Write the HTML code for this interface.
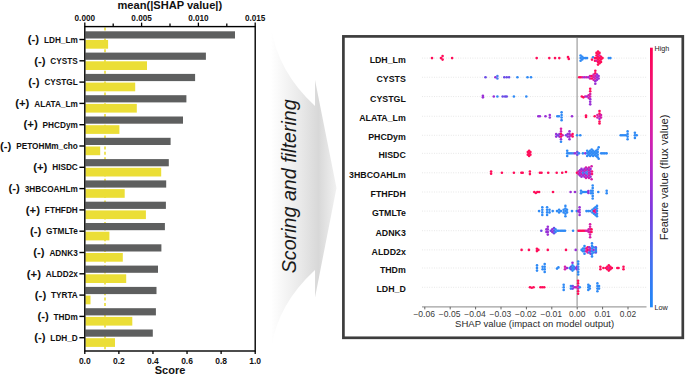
<!DOCTYPE html>
<html><head><meta charset="utf-8"><style>
html,body{margin:0;padding:0;background:#fff;overflow:hidden}
svg{display:block}
text{font-family:"Liberation Sans", sans-serif}
</style></head><body>
<svg width="685" height="374" viewBox="0 0 685 374" font-family='"Liberation Sans", sans-serif'>
<rect width="685" height="374" fill="#fff"/>
<line x1="105" y1="27.6" x2="105" y2="350.0" stroke="#ebde36" stroke-width="1.6" stroke-dasharray="3 2.4"/>
<rect x="85.4" y="31.30" width="149.60" height="7.2" fill="#5e5f5f"/>
<rect x="85.4" y="40.00" width="22.70" height="8.7" fill="#ebde36"/>
<line x1="79.4" y1="39.50" x2="84.8" y2="39.50" stroke="#000" stroke-width="1.4"/>
<text transform="translate(77.8,42.60) scale(0.96,1)" text-anchor="end" font-weight="bold" font-size="8.6" fill="#111">LDH_Lm</text>
<text x="39.16" y="43.20" text-anchor="end" font-weight="bold" font-size="11.4" fill="#111">(-)</text>
<rect x="85.4" y="52.60" width="120.50" height="7.2" fill="#5e5f5f"/>
<rect x="85.4" y="61.30" width="61.60" height="8.7" fill="#ebde36"/>
<line x1="79.4" y1="60.80" x2="84.8" y2="60.80" stroke="#000" stroke-width="1.4"/>
<text transform="translate(77.8,63.90) scale(0.96,1)" text-anchor="end" font-weight="bold" font-size="8.6" fill="#111">CYSTS</text>
<text x="45.57" y="64.50" text-anchor="end" font-weight="bold" font-size="11.4" fill="#111">(-)</text>
<rect x="85.4" y="73.90" width="109.70" height="7.2" fill="#5e5f5f"/>
<rect x="85.4" y="82.60" width="49.80" height="8.7" fill="#ebde36"/>
<line x1="79.4" y1="82.10" x2="84.8" y2="82.10" stroke="#000" stroke-width="1.4"/>
<text transform="translate(77.8,85.20) scale(0.96,1)" text-anchor="end" font-weight="bold" font-size="8.6" fill="#111">CYSTGL</text>
<text x="39.62" y="85.80" text-anchor="end" font-weight="bold" font-size="11.4" fill="#111">(-)</text>
<rect x="85.4" y="95.20" width="101.00" height="7.2" fill="#5e5f5f"/>
<rect x="85.4" y="103.90" width="51.40" height="8.7" fill="#ebde36"/>
<line x1="79.4" y1="103.40" x2="84.8" y2="103.40" stroke="#000" stroke-width="1.4"/>
<text transform="translate(77.8,106.50) scale(0.96,1)" text-anchor="end" font-weight="bold" font-size="8.6" fill="#111">ALATA_Lm</text>
<text x="29.38" y="107.10" text-anchor="end" font-weight="bold" font-size="11.4" fill="#111">(+)</text>
<rect x="85.4" y="116.50" width="97.60" height="7.2" fill="#5e5f5f"/>
<rect x="85.4" y="125.20" width="34.00" height="8.7" fill="#ebde36"/>
<line x1="79.4" y1="124.70" x2="84.8" y2="124.70" stroke="#000" stroke-width="1.4"/>
<text transform="translate(77.8,127.80) scale(0.96,1)" text-anchor="end" font-weight="bold" font-size="8.6" fill="#111">PHCDym</text>
<text x="37.77" y="128.40" text-anchor="end" font-weight="bold" font-size="11.4" fill="#111">(+)</text>
<rect x="85.4" y="137.80" width="85.20" height="7.2" fill="#5e5f5f"/>
<rect x="85.4" y="146.50" width="14.80" height="8.7" fill="#ebde36"/>
<line x1="79.4" y1="146.00" x2="84.8" y2="146.00" stroke="#000" stroke-width="1.4"/>
<text transform="translate(77.8,149.10) scale(0.96,1)" text-anchor="end" font-weight="bold" font-size="8.6" fill="#111">PETOHMm_cho</text>
<text x="11.32" y="149.70" text-anchor="end" font-weight="bold" font-size="11.4" fill="#111">(-)</text>
<rect x="85.4" y="159.10" width="83.40" height="7.2" fill="#5e5f5f"/>
<rect x="85.4" y="167.80" width="75.80" height="8.7" fill="#ebde36"/>
<line x1="79.4" y1="167.30" x2="84.8" y2="167.30" stroke="#000" stroke-width="1.4"/>
<text transform="translate(77.8,170.40) scale(0.96,1)" text-anchor="end" font-weight="bold" font-size="8.6" fill="#111">HISDC</text>
<text x="47.41" y="171.00" text-anchor="end" font-weight="bold" font-size="11.4" fill="#111">(+)</text>
<rect x="85.4" y="180.40" width="80.80" height="7.2" fill="#5e5f5f"/>
<rect x="85.4" y="189.10" width="39.30" height="8.7" fill="#ebde36"/>
<line x1="79.4" y1="188.60" x2="84.8" y2="188.60" stroke="#000" stroke-width="1.4"/>
<text transform="translate(77.8,191.70) scale(0.96,1)" text-anchor="end" font-weight="bold" font-size="8.6" fill="#111">3HBCOAHLm</text>
<text x="19.89" y="192.30" text-anchor="end" font-weight="bold" font-size="11.4" fill="#111">(-)</text>
<rect x="85.4" y="201.70" width="80.50" height="7.2" fill="#5e5f5f"/>
<rect x="85.4" y="210.40" width="60.50" height="8.7" fill="#ebde36"/>
<line x1="79.4" y1="209.90" x2="84.8" y2="209.90" stroke="#000" stroke-width="1.4"/>
<text transform="translate(77.8,213.00) scale(0.96,1)" text-anchor="end" font-weight="bold" font-size="8.6" fill="#111">FTHFDH</text>
<text x="40.09" y="213.60" text-anchor="end" font-weight="bold" font-size="11.4" fill="#111">(+)</text>
<rect x="85.4" y="223.00" width="79.50" height="7.2" fill="#5e5f5f"/>
<rect x="85.4" y="231.70" width="24.00" height="8.7" fill="#ebde36"/>
<line x1="79.4" y1="231.20" x2="84.8" y2="231.20" stroke="#000" stroke-width="1.4"/>
<text transform="translate(77.8,234.30) scale(0.96,1)" text-anchor="end" font-weight="bold" font-size="8.6" fill="#111">GTMLTe</text>
<text x="41.31" y="234.90" text-anchor="end" font-weight="bold" font-size="11.4" fill="#111">(-)</text>
<rect x="85.4" y="244.30" width="76.00" height="7.2" fill="#5e5f5f"/>
<rect x="85.4" y="253.00" width="37.40" height="8.7" fill="#ebde36"/>
<line x1="79.4" y1="252.50" x2="84.8" y2="252.50" stroke="#000" stroke-width="1.4"/>
<text transform="translate(77.8,255.60) scale(0.96,1)" text-anchor="end" font-weight="bold" font-size="8.6" fill="#111">ADNK3</text>
<text x="44.66" y="256.20" text-anchor="end" font-weight="bold" font-size="11.4" fill="#111">(-)</text>
<rect x="85.4" y="265.60" width="72.60" height="7.2" fill="#5e5f5f"/>
<rect x="85.4" y="274.30" width="40.80" height="8.7" fill="#ebde36"/>
<line x1="79.4" y1="273.80" x2="84.8" y2="273.80" stroke="#000" stroke-width="1.4"/>
<text transform="translate(77.8,276.90) scale(0.96,1)" text-anchor="end" font-weight="bold" font-size="8.6" fill="#111">ALDD2x</text>
<text x="40.99" y="277.50" text-anchor="end" font-weight="bold" font-size="11.4" fill="#111">(+)</text>
<rect x="85.4" y="286.90" width="71.10" height="7.2" fill="#5e5f5f"/>
<rect x="85.4" y="295.60" width="5.10" height="8.7" fill="#ebde36"/>
<line x1="79.4" y1="295.10" x2="84.8" y2="295.10" stroke="#000" stroke-width="1.4"/>
<text transform="translate(77.8,298.20) scale(0.96,1)" text-anchor="end" font-weight="bold" font-size="8.6" fill="#111">TYRTA</text>
<text x="46.20" y="298.80" text-anchor="end" font-weight="bold" font-size="11.4" fill="#111">(-)</text>
<rect x="85.4" y="308.20" width="70.50" height="7.2" fill="#5e5f5f"/>
<rect x="85.4" y="316.90" width="46.90" height="8.7" fill="#ebde36"/>
<line x1="79.4" y1="316.40" x2="84.8" y2="316.40" stroke="#000" stroke-width="1.4"/>
<text transform="translate(77.8,319.50) scale(0.96,1)" text-anchor="end" font-weight="bold" font-size="8.6" fill="#111">THDm</text>
<text x="48.79" y="320.10" text-anchor="end" font-weight="bold" font-size="11.4" fill="#111">(-)</text>
<rect x="85.4" y="329.50" width="67.40" height="7.2" fill="#5e5f5f"/>
<rect x="85.4" y="338.20" width="29.60" height="8.7" fill="#ebde36"/>
<line x1="79.4" y1="337.70" x2="84.8" y2="337.70" stroke="#000" stroke-width="1.4"/>
<text transform="translate(77.8,340.80) scale(0.96,1)" text-anchor="end" font-weight="bold" font-size="8.6" fill="#111">LDH_D</text>
<text x="45.58" y="341.40" text-anchor="end" font-weight="bold" font-size="11.4" fill="#111">(-)</text>
<rect x="84.8" y="26.6" width="170.40" height="324.40" fill="none" stroke="#000" stroke-width="1.4"/>
<line x1="84.80" y1="26.6" x2="84.80" y2="22.6" stroke="#000" stroke-width="1.3"/>
<line x1="113.20" y1="26.6" x2="113.20" y2="23.6" stroke="#000" stroke-width="1.3"/>
<line x1="141.60" y1="26.6" x2="141.60" y2="22.6" stroke="#000" stroke-width="1.3"/>
<line x1="170.00" y1="26.6" x2="170.00" y2="23.6" stroke="#000" stroke-width="1.3"/>
<line x1="198.40" y1="26.6" x2="198.40" y2="22.6" stroke="#000" stroke-width="1.3"/>
<line x1="226.80" y1="26.6" x2="226.80" y2="23.6" stroke="#000" stroke-width="1.3"/>
<line x1="255.20" y1="26.6" x2="255.20" y2="22.6" stroke="#000" stroke-width="1.3"/>
<text x="84.80" y="20.7" text-anchor="middle" font-weight="bold" font-size="8.2" fill="#111">0.000</text>
<text x="141.60" y="20.7" text-anchor="middle" font-weight="bold" font-size="8.2" fill="#111">0.005</text>
<text x="198.40" y="20.7" text-anchor="middle" font-weight="bold" font-size="8.2" fill="#111">0.010</text>
<text x="255.20" y="20.7" text-anchor="middle" font-weight="bold" font-size="8.2" fill="#111">0.015</text>
<text x="169.8" y="9.4" text-anchor="middle" font-weight="bold" font-size="11.1" fill="#111">mean(|SHAP value|)</text>
<line x1="84.80" y1="351.0" x2="84.80" y2="354.0" stroke="#000" stroke-width="1.3"/>
<text x="84.80" y="364" text-anchor="middle" font-weight="bold" font-size="8.5" fill="#111">0.0</text>
<line x1="118.88" y1="351.0" x2="118.88" y2="354.0" stroke="#000" stroke-width="1.3"/>
<text x="118.88" y="364" text-anchor="middle" font-weight="bold" font-size="8.5" fill="#111">0.2</text>
<line x1="152.96" y1="351.0" x2="152.96" y2="354.0" stroke="#000" stroke-width="1.3"/>
<text x="152.96" y="364" text-anchor="middle" font-weight="bold" font-size="8.5" fill="#111">0.4</text>
<line x1="187.04" y1="351.0" x2="187.04" y2="354.0" stroke="#000" stroke-width="1.3"/>
<text x="187.04" y="364" text-anchor="middle" font-weight="bold" font-size="8.5" fill="#111">0.6</text>
<line x1="221.12" y1="351.0" x2="221.12" y2="354.0" stroke="#000" stroke-width="1.3"/>
<text x="221.12" y="364" text-anchor="middle" font-weight="bold" font-size="8.5" fill="#111">0.8</text>
<line x1="255.20" y1="351.0" x2="255.20" y2="354.0" stroke="#000" stroke-width="1.3"/>
<text x="255.20" y="364" text-anchor="middle" font-weight="bold" font-size="8.5" fill="#111">1.0</text>
<text x="170" y="373.6" text-anchor="middle" font-weight="bold" font-size="11" fill="#111">Score</text>
<defs><linearGradient id="ag" x1="271" y1="0" x2="337" y2="0" gradientUnits="userSpaceOnUse"><stop offset="0" stop-color="#ffffff"/><stop offset="0.45" stop-color="#e9e9e9"/><stop offset="0.72" stop-color="#d8d8d8"/><stop offset="1" stop-color="#f2f2f2"/></linearGradient><linearGradient id="cb" x1="0" y1="0" x2="0" y2="1"><stop offset="0" stop-color="#ff0052"/><stop offset="0.17" stop-color="#f0167a"/><stop offset="0.36" stop-color="#d020b0"/><stop offset="0.5" stop-color="#a82ad0"/><stop offset="0.63" stop-color="#7c3ae0"/><stop offset="0.82" stop-color="#4470f0"/><stop offset="1" stop-color="#1e88f8"/></linearGradient></defs>
<path d="M271,27 Q278,72 315,106 L315,80 L336.5,188 L315,297.5 L315,270 Q278,304 271.5,347 Z" fill="url(#ag)"/>
<text transform="translate(296.2,186.3) rotate(-90)" text-anchor="middle" font-style="italic" font-size="19.7" fill="#1a1a1a">Scoring and filtering</text>
<rect x="343.4" y="36.4" width="339.4" height="301.4" fill="#fff" stroke="#3d3d3d" stroke-width="2.7"/>
<text x="405.8" y="63.10" text-anchor="end" font-weight="bold" font-size="8.8" fill="#111">LDH_Lm</text>
<line x1="422" y1="58.10" x2="647" y2="58.10" stroke="#e2e2e2" stroke-width="0.9" stroke-dasharray="0.9 1.5"/>
<text x="405.8" y="82.25" text-anchor="end" font-weight="bold" font-size="8.8" fill="#111">CYSTS</text>
<line x1="422" y1="77.25" x2="647" y2="77.25" stroke="#e2e2e2" stroke-width="0.9" stroke-dasharray="0.9 1.5"/>
<text x="405.8" y="101.55" text-anchor="end" font-weight="bold" font-size="8.8" fill="#111">CYSTGL</text>
<line x1="422" y1="96.55" x2="647" y2="96.55" stroke="#e2e2e2" stroke-width="0.9" stroke-dasharray="0.9 1.5"/>
<text x="405.8" y="121.25" text-anchor="end" font-weight="bold" font-size="8.8" fill="#111">ALATA_Lm</text>
<line x1="422" y1="116.25" x2="647" y2="116.25" stroke="#e2e2e2" stroke-width="0.9" stroke-dasharray="0.9 1.5"/>
<text x="405.8" y="140.30" text-anchor="end" font-weight="bold" font-size="8.8" fill="#111">PHCDym</text>
<line x1="422" y1="135.30" x2="647" y2="135.30" stroke="#e2e2e2" stroke-width="0.9" stroke-dasharray="0.9 1.5"/>
<text x="405.8" y="158.35" text-anchor="end" font-weight="bold" font-size="8.8" fill="#111">HISDC</text>
<line x1="422" y1="153.35" x2="647" y2="153.35" stroke="#e2e2e2" stroke-width="0.9" stroke-dasharray="0.9 1.5"/>
<text x="405.8" y="177.80" text-anchor="end" font-weight="bold" font-size="8.8" fill="#111">3HBCOAHLm</text>
<line x1="422" y1="172.80" x2="647" y2="172.80" stroke="#e2e2e2" stroke-width="0.9" stroke-dasharray="0.9 1.5"/>
<text x="405.8" y="197.00" text-anchor="end" font-weight="bold" font-size="8.8" fill="#111">FTHFDH</text>
<line x1="422" y1="192.00" x2="647" y2="192.00" stroke="#e2e2e2" stroke-width="0.9" stroke-dasharray="0.9 1.5"/>
<text x="405.8" y="216.10" text-anchor="end" font-weight="bold" font-size="8.8" fill="#111">GTMLTe</text>
<line x1="422" y1="211.10" x2="647" y2="211.10" stroke="#e2e2e2" stroke-width="0.9" stroke-dasharray="0.9 1.5"/>
<text x="405.8" y="235.70" text-anchor="end" font-weight="bold" font-size="8.8" fill="#111">ADNK3</text>
<line x1="422" y1="230.70" x2="647" y2="230.70" stroke="#e2e2e2" stroke-width="0.9" stroke-dasharray="0.9 1.5"/>
<text x="405.8" y="254.90" text-anchor="end" font-weight="bold" font-size="8.8" fill="#111">ALDD2x</text>
<line x1="422" y1="249.90" x2="647" y2="249.90" stroke="#e2e2e2" stroke-width="0.9" stroke-dasharray="0.9 1.5"/>
<text x="405.8" y="273.00" text-anchor="end" font-weight="bold" font-size="8.8" fill="#111">THDm</text>
<line x1="422" y1="268.00" x2="647" y2="268.00" stroke="#e2e2e2" stroke-width="0.9" stroke-dasharray="0.9 1.5"/>
<text x="405.8" y="292.30" text-anchor="end" font-weight="bold" font-size="8.8" fill="#111">LDH_D</text>
<line x1="422" y1="287.30" x2="647" y2="287.30" stroke="#e2e2e2" stroke-width="0.9" stroke-dasharray="0.9 1.5"/>
<line x1="577.1" y1="38" x2="577.1" y2="306.5" stroke="#a4a4a4" stroke-width="1.3"/>
<line x1="422" y1="306.9" x2="646.5" y2="306.9" stroke="#a0a0a0" stroke-width="1.3"/>
<line x1="424.80" y1="306.9" x2="424.80" y2="309.4" stroke="#555" stroke-width="0.9"/>
<text x="424.20" y="316.7" text-anchor="middle" font-size="8.2" fill="#3a3a3a" textLength="21.6" lengthAdjust="spacingAndGlyphs">−0.06</text>
<line x1="450.20" y1="306.9" x2="450.20" y2="309.4" stroke="#555" stroke-width="0.9"/>
<text x="449.60" y="316.7" text-anchor="middle" font-size="8.2" fill="#3a3a3a" textLength="21.6" lengthAdjust="spacingAndGlyphs">−0.05</text>
<line x1="475.60" y1="306.9" x2="475.60" y2="309.4" stroke="#555" stroke-width="0.9"/>
<text x="475.00" y="316.7" text-anchor="middle" font-size="8.2" fill="#3a3a3a" textLength="21.6" lengthAdjust="spacingAndGlyphs">−0.04</text>
<line x1="501.00" y1="306.9" x2="501.00" y2="309.4" stroke="#555" stroke-width="0.9"/>
<text x="500.40" y="316.7" text-anchor="middle" font-size="8.2" fill="#3a3a3a" textLength="21.6" lengthAdjust="spacingAndGlyphs">−0.03</text>
<line x1="526.40" y1="306.9" x2="526.40" y2="309.4" stroke="#555" stroke-width="0.9"/>
<text x="525.80" y="316.7" text-anchor="middle" font-size="8.2" fill="#3a3a3a" textLength="21.6" lengthAdjust="spacingAndGlyphs">−0.02</text>
<line x1="551.80" y1="306.9" x2="551.80" y2="309.4" stroke="#555" stroke-width="0.9"/>
<text x="551.20" y="316.7" text-anchor="middle" font-size="8.2" fill="#3a3a3a" textLength="21.6" lengthAdjust="spacingAndGlyphs">−0.01</text>
<line x1="577.20" y1="306.9" x2="577.20" y2="309.4" stroke="#555" stroke-width="0.9"/>
<text x="577.20" y="316.7" text-anchor="middle" font-size="8.2" fill="#3a3a3a" textLength="16.3" lengthAdjust="spacingAndGlyphs">0.00</text>
<line x1="602.60" y1="306.9" x2="602.60" y2="309.4" stroke="#555" stroke-width="0.9"/>
<text x="602.60" y="316.7" text-anchor="middle" font-size="8.2" fill="#3a3a3a" textLength="16.3" lengthAdjust="spacingAndGlyphs">0.01</text>
<line x1="628.00" y1="306.9" x2="628.00" y2="309.4" stroke="#555" stroke-width="0.9"/>
<text x="628.00" y="316.7" text-anchor="middle" font-size="8.2" fill="#3a3a3a" textLength="16.3" lengthAdjust="spacingAndGlyphs">0.02</text>
<text x="534.6" y="327.2" text-anchor="middle" font-size="8.5" fill="#2a2a2a" textLength="159" lengthAdjust="spacingAndGlyphs">SHAP value (impact on model output)</text>
<rect x="650" y="47.7" width="2.8" height="259.6" fill="url(#cb)"/>
<text x="654.5" y="50.8" font-size="7.2" fill="#222">High</text>
<text x="654.5" y="309.6" font-size="7.3" fill="#222">Low</text>
<text transform="translate(668.3,177.5) rotate(-90)" text-anchor="middle" font-size="11.15" fill="#222">Feature value (flux value)</text>
<g><circle cx="432.0" cy="58.10" r="1.3" fill="#ff0d5a"/><circle cx="441.0" cy="58.10" r="1.3" fill="#ff0d5a"/><circle cx="442.6" cy="56.10" r="1.3" fill="#ff0d5a"/><circle cx="442.6" cy="59.60" r="1.3" fill="#ff0d5a"/><circle cx="452.1" cy="58.10" r="1.3" fill="#ff0d5a"/><circle cx="536.7" cy="58.10" r="1.3" fill="#ff0d5a"/><circle cx="549.3" cy="58.10" r="1.3" fill="#ff0d5a"/><circle cx="555.0" cy="58.10" r="1.3" fill="#ff0d5a"/><circle cx="559.3" cy="58.10" r="1.3" fill="#ff0d5a"/><circle cx="568.0" cy="57.10" r="1.3" fill="#ff0d5a"/><circle cx="568.8" cy="58.90" r="1.3" fill="#ff0d5a"/><circle cx="580.6" cy="55.50" r="1.3" fill="#2f8af5"/><circle cx="580.6" cy="58.10" r="1.3" fill="#2f8af5"/><circle cx="580.6" cy="60.70" r="1.3" fill="#2f8af5"/><circle cx="582.2" cy="56.80" r="1.3" fill="#2f8af5"/><circle cx="582.2" cy="59.40" r="1.3" fill="#2f8af5"/><circle cx="583.9" cy="58.10" r="1.3" fill="#2f8af5"/><circle cx="585.6" cy="58.10" r="1.3" fill="#2f8af5"/><circle cx="587.0" cy="58.10" r="1.3" fill="#2f8af5"/><circle cx="592.0" cy="59.60" r="1.3" fill="#ff0d5a"/><circle cx="593.0" cy="57.30" r="1.3" fill="#2f8af5"/><circle cx="595.0" cy="58.10" r="1.3" fill="#ff0d5a"/><circle cx="595.0" cy="60.70" r="1.3" fill="#ff0d5a"/><circle cx="596.5" cy="52.90" r="1.3" fill="#ff0d5a"/><circle cx="596.5" cy="55.50" r="1.3" fill="#ff0d5a"/><circle cx="596.5" cy="58.10" r="1.3" fill="#ff0d5a"/><circle cx="596.5" cy="60.70" r="1.3" fill="#d61ea8"/><circle cx="598.0" cy="51.60" r="1.3" fill="#ff0d5a"/><circle cx="598.0" cy="54.20" r="1.3" fill="#ff0d5a"/><circle cx="598.0" cy="56.80" r="1.3" fill="#ff0d5a"/><circle cx="598.0" cy="59.40" r="1.3" fill="#ff0d5a"/><circle cx="598.0" cy="62.00" r="1.3" fill="#ff0d5a"/><circle cx="598.0" cy="64.60" r="1.3" fill="#ff0d5a"/><circle cx="599.5" cy="52.90" r="1.3" fill="#ff0d5a"/><circle cx="599.5" cy="58.10" r="1.3" fill="#ff0d5a"/><circle cx="599.5" cy="60.70" r="1.3" fill="#ff0d5a"/><circle cx="599.5" cy="63.30" r="1.3" fill="#ff0d5a"/><circle cx="599.5" cy="55.50" r="1.3" fill="#d61ea8"/><circle cx="601.0" cy="56.80" r="1.3" fill="#ff0d5a"/><circle cx="601.0" cy="59.40" r="1.3" fill="#ff0d5a"/><circle cx="601.0" cy="62.00" r="1.3" fill="#ff0d5a"/><circle cx="602.5" cy="58.10" r="1.3" fill="#ff0d5a"/><circle cx="608.8" cy="58.10" r="1.3" fill="#2f8af5"/><circle cx="610.4" cy="58.10" r="1.3" fill="#2f8af5"/><circle cx="485.5" cy="77.25" r="1.3" fill="#6a4ce6"/><circle cx="495.4" cy="77.25" r="1.3" fill="#9a2fd6"/><circle cx="497.4" cy="75.95" r="1.3" fill="#4a80f0"/><circle cx="497.4" cy="78.55" r="1.3" fill="#4a80f0"/><circle cx="504.3" cy="77.25" r="1.3" fill="#6a4ce6"/><circle cx="506.7" cy="77.25" r="1.3" fill="#6a4ce6"/><circle cx="509.1" cy="77.25" r="1.3" fill="#6a4ce6"/><circle cx="517.4" cy="77.25" r="1.3" fill="#2f8af5"/><circle cx="527.5" cy="77.25" r="1.3" fill="#2f8af5"/><circle cx="531.0" cy="77.25" r="1.3" fill="#2f8af5"/><circle cx="579.2" cy="77.25" r="1.3" fill="#ff0d5a"/><circle cx="580.9" cy="77.25" r="1.3" fill="#ff0d5a"/><circle cx="582.8" cy="77.25" r="1.3" fill="#d61ea8"/><circle cx="584.6" cy="77.25" r="1.3" fill="#9a2fd6"/><circle cx="586.4" cy="77.25" r="1.3" fill="#d61ea8"/><circle cx="588.2" cy="77.25" r="1.3" fill="#9a2fd6"/><circle cx="590.0" cy="75.95" r="1.3" fill="#d61ea8"/><circle cx="590.0" cy="78.55" r="1.3" fill="#d61ea8"/><circle cx="591.8" cy="75.95" r="1.3" fill="#ff0d5a"/><circle cx="591.8" cy="78.55" r="1.3" fill="#ff0d5a"/><circle cx="593.6" cy="74.65" r="1.3" fill="#d61ea8"/><circle cx="593.6" cy="77.25" r="1.3" fill="#d61ea8"/><circle cx="593.6" cy="79.85" r="1.3" fill="#d61ea8"/><circle cx="595.3" cy="70.75" r="1.3" fill="#ff0d5a"/><circle cx="595.3" cy="73.35" r="1.3" fill="#ff0d5a"/><circle cx="595.3" cy="75.95" r="1.3" fill="#d61ea8"/><circle cx="595.3" cy="78.55" r="1.3" fill="#d61ea8"/><circle cx="595.3" cy="81.15" r="1.3" fill="#9a2fd6"/><circle cx="595.3" cy="83.75" r="1.3" fill="#9a2fd6"/><circle cx="597.0" cy="74.65" r="1.3" fill="#9a2fd6"/><circle cx="597.0" cy="77.25" r="1.3" fill="#9a2fd6"/><circle cx="597.0" cy="79.85" r="1.3" fill="#9a2fd6"/><circle cx="598.6" cy="75.95" r="1.3" fill="#9a2fd6"/><circle cx="598.6" cy="78.55" r="1.3" fill="#9a2fd6"/><circle cx="482.9" cy="95.75" r="1.3" fill="#9a2fd6"/><circle cx="482.9" cy="97.35" r="1.3" fill="#9a2fd6"/><circle cx="493.8" cy="96.55" r="1.3" fill="#9a2fd6"/><circle cx="497.4" cy="96.55" r="1.3" fill="#2f8af5"/><circle cx="502.7" cy="96.55" r="1.3" fill="#6a4ce6"/><circle cx="505.1" cy="96.55" r="1.3" fill="#6a4ce6"/><circle cx="506.7" cy="96.55" r="1.3" fill="#6a4ce6"/><circle cx="513.9" cy="96.55" r="1.3" fill="#2f8af5"/><circle cx="526.3" cy="96.55" r="1.3" fill="#2f8af5"/><circle cx="581.8" cy="96.55" r="1.3" fill="#ff0d5a"/><circle cx="583.4" cy="97.35" r="1.3" fill="#ff0d5a"/><circle cx="585.2" cy="96.55" r="1.3" fill="#d61ea8"/><circle cx="586.8" cy="96.55" r="1.3" fill="#9a2fd6"/><circle cx="588.6" cy="95.25" r="1.3" fill="#d61ea8"/><circle cx="588.6" cy="97.85" r="1.3" fill="#d61ea8"/><circle cx="590.2" cy="88.75" r="1.3" fill="#ff0d5a"/><circle cx="590.2" cy="91.35" r="1.3" fill="#ff0d5a"/><circle cx="590.2" cy="93.95" r="1.3" fill="#d61ea8"/><circle cx="590.2" cy="96.55" r="1.3" fill="#d61ea8"/><circle cx="590.2" cy="99.15" r="1.3" fill="#9a2fd6"/><circle cx="590.2" cy="101.75" r="1.3" fill="#9a2fd6"/><circle cx="590.2" cy="104.35" r="1.3" fill="#9a2fd6"/><circle cx="538.3" cy="116.25" r="1.3" fill="#9a2fd6"/><circle cx="539.9" cy="116.25" r="1.3" fill="#9a2fd6"/><circle cx="545.5" cy="116.25" r="1.3" fill="#9a2fd6"/><circle cx="549.8" cy="115.05" r="1.3" fill="#9a2fd6"/><circle cx="549.8" cy="117.45" r="1.3" fill="#9a2fd6"/><circle cx="557.3" cy="116.25" r="1.3" fill="#2f8af5"/><circle cx="558.9" cy="116.25" r="1.3" fill="#2f8af5"/><circle cx="561.6" cy="112.35" r="1.3" fill="#2f8af5"/><circle cx="561.6" cy="114.95" r="1.3" fill="#2f8af5"/><circle cx="561.6" cy="117.55" r="1.3" fill="#2f8af5"/><circle cx="561.6" cy="120.15" r="1.3" fill="#2f8af5"/><circle cx="572.0" cy="116.25" r="1.3" fill="#9a2fd6"/><circle cx="586.0" cy="115.45" r="1.3" fill="#ff0d5a"/><circle cx="586.0" cy="117.05" r="1.3" fill="#ff0d5a"/><circle cx="594.7" cy="116.25" r="1.3" fill="#ff0d5a"/><circle cx="597.4" cy="114.95" r="1.3" fill="#d61ea8"/><circle cx="597.4" cy="117.55" r="1.3" fill="#d61ea8"/><circle cx="599.5" cy="111.05" r="1.3" fill="#ff0d5a"/><circle cx="599.5" cy="113.65" r="1.3" fill="#ff0d5a"/><circle cx="599.5" cy="116.25" r="1.3" fill="#d61ea8"/><circle cx="599.5" cy="118.85" r="1.3" fill="#9a2fd6"/><circle cx="599.5" cy="121.45" r="1.3" fill="#ff0d5a"/><circle cx="599.5" cy="123.53" r="1.3" fill="#ff0d5a"/><circle cx="601.0" cy="114.95" r="1.3" fill="#d61ea8"/><circle cx="601.0" cy="117.55" r="1.3" fill="#d61ea8"/><circle cx="556.2" cy="134.00" r="1.3" fill="#9a2fd6"/><circle cx="556.2" cy="136.60" r="1.3" fill="#9a2fd6"/><circle cx="557.8" cy="135.30" r="1.3" fill="#6a4ce6"/><circle cx="559.4" cy="134.00" r="1.3" fill="#9a2fd6"/><circle cx="559.4" cy="136.60" r="1.3" fill="#9a2fd6"/><circle cx="561.0" cy="128.80" r="1.3" fill="#d61ea8"/><circle cx="561.0" cy="131.40" r="1.3" fill="#d61ea8"/><circle cx="561.0" cy="134.00" r="1.3" fill="#ff0d5a"/><circle cx="561.0" cy="136.60" r="1.3" fill="#ff0d5a"/><circle cx="561.0" cy="139.20" r="1.3" fill="#9a2fd6"/><circle cx="561.0" cy="141.80" r="1.3" fill="#2f8af5"/><circle cx="562.6" cy="135.30" r="1.3" fill="#d61ea8"/><circle cx="566.0" cy="135.30" r="1.3" fill="#6a4ce6"/><circle cx="567.7" cy="134.00" r="1.3" fill="#9a2fd6"/><circle cx="567.7" cy="136.60" r="1.3" fill="#9a2fd6"/><circle cx="569.5" cy="131.40" r="1.3" fill="#9a2fd6"/><circle cx="569.5" cy="134.00" r="1.3" fill="#9a2fd6"/><circle cx="569.5" cy="136.60" r="1.3" fill="#9a2fd6"/><circle cx="569.5" cy="139.20" r="1.3" fill="#9a2fd6"/><circle cx="571.0" cy="135.30" r="1.3" fill="#d61ea8"/><circle cx="572.6" cy="134.10" r="1.3" fill="#ff0d5a"/><circle cx="572.6" cy="136.50" r="1.3" fill="#ff0d5a"/><circle cx="577.1" cy="135.30" r="1.3" fill="#2f8af5"/><circle cx="580.3" cy="135.30" r="1.3" fill="#2f8af5"/><circle cx="620.7" cy="135.30" r="1.3" fill="#2f8af5"/><circle cx="622.2" cy="135.30" r="1.3" fill="#2f8af5"/><circle cx="624.0" cy="135.30" r="1.3" fill="#2f8af5"/><circle cx="625.8" cy="135.30" r="1.3" fill="#2f8af5"/><circle cx="627.6" cy="131.40" r="1.3" fill="#2f8af5"/><circle cx="627.6" cy="134.00" r="1.3" fill="#2f8af5"/><circle cx="627.6" cy="136.60" r="1.3" fill="#2f8af5"/><circle cx="627.6" cy="139.20" r="1.3" fill="#2f8af5"/><circle cx="634.9" cy="132.70" r="1.3" fill="#2f8af5"/><circle cx="634.9" cy="135.30" r="1.3" fill="#2f8af5"/><circle cx="634.9" cy="137.90" r="1.3" fill="#2f8af5"/><circle cx="636.7" cy="135.30" r="1.3" fill="#2f8af5"/><circle cx="527.8" cy="152.05" r="1.3" fill="#ff0d5a"/><circle cx="527.8" cy="154.65" r="1.3" fill="#ff0d5a"/><circle cx="529.1" cy="150.75" r="1.3" fill="#ff0d5a"/><circle cx="529.1" cy="153.35" r="1.3" fill="#ff0d5a"/><circle cx="529.1" cy="155.95" r="1.3" fill="#ff0d5a"/><circle cx="530.4" cy="152.05" r="1.3" fill="#ff0d5a"/><circle cx="530.4" cy="154.65" r="1.3" fill="#ff0d5a"/><circle cx="567.2" cy="150.75" r="1.3" fill="#2f8af5"/><circle cx="567.2" cy="153.35" r="1.3" fill="#2f8af5"/><circle cx="567.2" cy="155.95" r="1.3" fill="#2f8af5"/><circle cx="569.0" cy="153.35" r="1.3" fill="#2f8af5"/><circle cx="571.0" cy="153.35" r="1.3" fill="#2f8af5"/><circle cx="573.0" cy="153.35" r="1.3" fill="#4a80f0"/><circle cx="575.0" cy="153.35" r="1.3" fill="#9a2fd6"/><circle cx="577.3" cy="152.05" r="1.3" fill="#6a4ce6"/><circle cx="577.3" cy="154.65" r="1.3" fill="#6a4ce6"/><circle cx="579.0" cy="153.35" r="1.3" fill="#2f8af5"/><circle cx="582.9" cy="153.35" r="1.3" fill="#2f8af5"/><circle cx="585.3" cy="153.35" r="1.3" fill="#9a2fd6"/><circle cx="587.2" cy="150.75" r="1.3" fill="#2f8af5"/><circle cx="587.2" cy="153.35" r="1.3" fill="#2f8af5"/><circle cx="587.2" cy="155.95" r="1.3" fill="#2f8af5"/><circle cx="588.7" cy="152.05" r="1.3" fill="#2f8af5"/><circle cx="588.7" cy="154.65" r="1.3" fill="#2f8af5"/><circle cx="590.2" cy="150.75" r="1.3" fill="#2f8af5"/><circle cx="590.2" cy="153.35" r="1.3" fill="#2f8af5"/><circle cx="590.2" cy="155.95" r="1.3" fill="#2f8af5"/><circle cx="591.7" cy="152.05" r="1.3" fill="#2f8af5"/><circle cx="591.7" cy="154.65" r="1.3" fill="#2f8af5"/><circle cx="591.7" cy="149.45" r="1.3" fill="#2f8af5"/><circle cx="593.2" cy="150.75" r="1.3" fill="#2f8af5"/><circle cx="593.2" cy="153.35" r="1.3" fill="#2f8af5"/><circle cx="593.2" cy="155.95" r="1.3" fill="#2f8af5"/><circle cx="594.7" cy="152.05" r="1.3" fill="#2f8af5"/><circle cx="594.7" cy="154.65" r="1.3" fill="#2f8af5"/><circle cx="596.2" cy="150.75" r="1.3" fill="#2f8af5"/><circle cx="596.2" cy="153.35" r="1.3" fill="#2f8af5"/><circle cx="596.2" cy="155.95" r="1.3" fill="#2f8af5"/><circle cx="597.7" cy="149.45" r="1.3" fill="#2f8af5"/><circle cx="597.7" cy="152.05" r="1.3" fill="#2f8af5"/><circle cx="597.7" cy="154.65" r="1.3" fill="#2f8af5"/><circle cx="597.7" cy="157.25" r="1.3" fill="#2f8af5"/><circle cx="598.7" cy="147.35" r="1.3" fill="#2f8af5"/><circle cx="598.7" cy="158.75" r="1.3" fill="#2f8af5"/><circle cx="601.2" cy="153.35" r="1.3" fill="#2f8af5"/><circle cx="603.0" cy="153.35" r="1.3" fill="#2f8af5"/><circle cx="604.8" cy="153.35" r="1.3" fill="#2f8af5"/><circle cx="606.6" cy="153.35" r="1.3" fill="#2f8af5"/><circle cx="491.1" cy="171.60" r="1.3" fill="#ff0d5a"/><circle cx="491.1" cy="173.80" r="1.3" fill="#ff0d5a"/><circle cx="501.9" cy="172.80" r="1.3" fill="#ff0d5a"/><circle cx="513.9" cy="172.80" r="1.3" fill="#ff0d5a"/><circle cx="521.4" cy="172.80" r="1.3" fill="#ff0d5a"/><circle cx="522.7" cy="172.80" r="1.3" fill="#ff0d5a"/><circle cx="529.9" cy="171.50" r="1.3" fill="#ff0d5a"/><circle cx="529.9" cy="174.10" r="1.3" fill="#ff0d5a"/><circle cx="539.9" cy="172.80" r="1.3" fill="#ff0d5a"/><circle cx="541.5" cy="172.80" r="1.3" fill="#ff0d5a"/><circle cx="548.2" cy="172.80" r="1.3" fill="#ff0d5a"/><circle cx="556.7" cy="172.80" r="1.3" fill="#ff0d5a"/><circle cx="562.2" cy="172.80" r="1.3" fill="#ff0d5a"/><circle cx="566.0" cy="172.00" r="1.3" fill="#ff0d5a"/><circle cx="577.0" cy="172.80" r="1.3" fill="#ff0d5a"/><circle cx="578.5" cy="171.50" r="1.3" fill="#d61ea8"/><circle cx="578.5" cy="174.10" r="1.3" fill="#d61ea8"/><circle cx="580.0" cy="170.20" r="1.3" fill="#9a2fd6"/><circle cx="580.0" cy="172.80" r="1.3" fill="#9a2fd6"/><circle cx="580.0" cy="175.40" r="1.3" fill="#9a2fd6"/><circle cx="581.5" cy="171.50" r="1.3" fill="#d61ea8"/><circle cx="581.5" cy="174.10" r="1.3" fill="#d61ea8"/><circle cx="581.5" cy="168.90" r="1.3" fill="#9a2fd6"/><circle cx="581.5" cy="176.70" r="1.3" fill="#9a2fd6"/><circle cx="583.0" cy="170.20" r="1.3" fill="#9a2fd6"/><circle cx="583.0" cy="175.40" r="1.3" fill="#9a2fd6"/><circle cx="583.0" cy="172.80" r="1.3" fill="#2f8af5"/><circle cx="584.5" cy="171.50" r="1.3" fill="#9a2fd6"/><circle cx="584.5" cy="174.10" r="1.3" fill="#9a2fd6"/><circle cx="584.5" cy="168.90" r="1.3" fill="#9a2fd6"/><circle cx="584.5" cy="176.70" r="1.3" fill="#9a2fd6"/><circle cx="586.0" cy="167.60" r="1.3" fill="#d61ea8"/><circle cx="586.0" cy="170.20" r="1.3" fill="#d61ea8"/><circle cx="586.0" cy="175.40" r="1.3" fill="#d61ea8"/><circle cx="586.0" cy="178.00" r="1.3" fill="#d61ea8"/><circle cx="586.0" cy="172.80" r="1.3" fill="#4a80f0"/><circle cx="587.5" cy="171.50" r="1.3" fill="#4a80f0"/><circle cx="587.5" cy="174.10" r="1.3" fill="#4a80f0"/><circle cx="587.5" cy="168.90" r="1.3" fill="#9a2fd6"/><circle cx="587.5" cy="176.70" r="1.3" fill="#9a2fd6"/><circle cx="589.0" cy="167.60" r="1.3" fill="#d61ea8"/><circle cx="589.0" cy="170.20" r="1.3" fill="#d61ea8"/><circle cx="589.0" cy="172.80" r="1.3" fill="#d61ea8"/><circle cx="589.0" cy="175.40" r="1.3" fill="#d61ea8"/><circle cx="589.0" cy="178.00" r="1.3" fill="#d61ea8"/><circle cx="590.5" cy="171.50" r="1.3" fill="#9a2fd6"/><circle cx="590.5" cy="174.10" r="1.3" fill="#9a2fd6"/><circle cx="590.5" cy="168.90" r="1.3" fill="#9a2fd6"/><circle cx="590.5" cy="176.70" r="1.3" fill="#9a2fd6"/><circle cx="591.6" cy="166.30" r="1.3" fill="#d61ea8"/><circle cx="591.6" cy="179.30" r="1.3" fill="#d61ea8"/><circle cx="592.0" cy="171.50" r="1.3" fill="#f5157a"/><circle cx="592.0" cy="174.10" r="1.3" fill="#f5157a"/><circle cx="534.3" cy="192.00" r="1.3" fill="#ff0d5a"/><circle cx="535.8" cy="193.00" r="1.3" fill="#ff0d5a"/><circle cx="537.3" cy="192.00" r="1.3" fill="#ff0d5a"/><circle cx="539.1" cy="192.00" r="1.3" fill="#ff0d5a"/><circle cx="553.0" cy="192.00" r="1.3" fill="#ff0d5a"/><circle cx="570.6" cy="192.00" r="1.3" fill="#9a2fd6"/><circle cx="575.0" cy="192.00" r="1.3" fill="#9a2fd6"/><circle cx="581.0" cy="190.70" r="1.3" fill="#2f8af5"/><circle cx="581.0" cy="193.30" r="1.3" fill="#2f8af5"/><circle cx="583.0" cy="192.00" r="1.3" fill="#2f8af5"/><circle cx="585.0" cy="192.00" r="1.3" fill="#2f8af5"/><circle cx="587.0" cy="192.00" r="1.3" fill="#2f8af5"/><circle cx="588.4" cy="191.00" r="1.3" fill="#9a2fd6"/><circle cx="588.4" cy="193.00" r="1.3" fill="#9a2fd6"/><circle cx="591.0" cy="190.70" r="1.3" fill="#2f8af5"/><circle cx="591.0" cy="193.30" r="1.3" fill="#2f8af5"/><circle cx="592.7" cy="185.50" r="1.3" fill="#2f8af5"/><circle cx="592.7" cy="188.10" r="1.3" fill="#2f8af5"/><circle cx="592.7" cy="190.70" r="1.3" fill="#2f8af5"/><circle cx="592.7" cy="193.30" r="1.3" fill="#2f8af5"/><circle cx="592.7" cy="195.90" r="1.3" fill="#2f8af5"/><circle cx="592.7" cy="198.50" r="1.3" fill="#2f8af5"/><circle cx="598.3" cy="192.00" r="1.3" fill="#2f8af5"/><circle cx="606.7" cy="190.70" r="1.3" fill="#2f8af5"/><circle cx="606.7" cy="193.30" r="1.3" fill="#2f8af5"/><circle cx="539.1" cy="211.10" r="1.3" fill="#2f8af5"/><circle cx="542.3" cy="207.20" r="1.3" fill="#2f8af5"/><circle cx="542.3" cy="209.80" r="1.3" fill="#2f8af5"/><circle cx="542.3" cy="212.40" r="1.3" fill="#2f8af5"/><circle cx="542.3" cy="215.00" r="1.3" fill="#2f8af5"/><circle cx="547.1" cy="207.20" r="1.3" fill="#2f8af5"/><circle cx="547.1" cy="209.80" r="1.3" fill="#2f8af5"/><circle cx="547.1" cy="212.40" r="1.3" fill="#2f8af5"/><circle cx="547.1" cy="215.00" r="1.3" fill="#2f8af5"/><circle cx="549.5" cy="209.80" r="1.3" fill="#2f8af5"/><circle cx="549.5" cy="212.40" r="1.3" fill="#2f8af5"/><circle cx="552.7" cy="211.10" r="1.3" fill="#2f8af5"/><circle cx="557.0" cy="211.10" r="1.3" fill="#2f8af5"/><circle cx="559.1" cy="209.80" r="1.3" fill="#2f8af5"/><circle cx="559.1" cy="212.40" r="1.3" fill="#2f8af5"/><circle cx="561.0" cy="211.10" r="1.3" fill="#2f8af5"/><circle cx="563.6" cy="209.80" r="1.3" fill="#2f8af5"/><circle cx="563.6" cy="212.40" r="1.3" fill="#2f8af5"/><circle cx="565.4" cy="205.90" r="1.3" fill="#2f8af5"/><circle cx="565.4" cy="208.50" r="1.3" fill="#2f8af5"/><circle cx="565.4" cy="211.10" r="1.3" fill="#2f8af5"/><circle cx="565.4" cy="213.70" r="1.3" fill="#2f8af5"/><circle cx="565.4" cy="216.30" r="1.3" fill="#2f8af5"/><circle cx="567.0" cy="209.80" r="1.3" fill="#2f8af5"/><circle cx="567.0" cy="212.40" r="1.3" fill="#2f8af5"/><circle cx="572.0" cy="211.10" r="1.3" fill="#2f8af5"/><circle cx="576.8" cy="211.10" r="1.3" fill="#2f8af5"/><circle cx="578.2" cy="211.10" r="1.3" fill="#9a2fd6"/><circle cx="579.6" cy="207.20" r="1.3" fill="#9a2fd6"/><circle cx="579.6" cy="209.80" r="1.3" fill="#9a2fd6"/><circle cx="579.6" cy="212.40" r="1.3" fill="#9a2fd6"/><circle cx="579.6" cy="215.00" r="1.3" fill="#9a2fd6"/><circle cx="586.5" cy="211.10" r="1.3" fill="#2f8af5"/><circle cx="588.3" cy="211.10" r="1.3" fill="#2f8af5"/><circle cx="590.2" cy="211.10" r="1.3" fill="#2f8af5"/><circle cx="592.4" cy="209.80" r="1.3" fill="#2f8af5"/><circle cx="592.4" cy="212.40" r="1.3" fill="#2f8af5"/><circle cx="594.0" cy="208.50" r="1.3" fill="#2f8af5"/><circle cx="594.0" cy="213.70" r="1.3" fill="#2f8af5"/><circle cx="594.0" cy="211.10" r="1.3" fill="#ff0d5a"/><circle cx="595.5" cy="207.20" r="1.3" fill="#2f8af5"/><circle cx="595.5" cy="215.00" r="1.3" fill="#2f8af5"/><circle cx="595.5" cy="209.80" r="1.3" fill="#d61ea8"/><circle cx="595.5" cy="212.40" r="1.3" fill="#d61ea8"/><circle cx="597.0" cy="205.90" r="1.3" fill="#2f8af5"/><circle cx="597.0" cy="208.50" r="1.3" fill="#2f8af5"/><circle cx="597.0" cy="211.10" r="1.3" fill="#2f8af5"/><circle cx="597.0" cy="213.70" r="1.3" fill="#2f8af5"/><circle cx="597.0" cy="216.30" r="1.3" fill="#2f8af5"/><circle cx="541.3" cy="230.70" r="1.3" fill="#6a4ce6"/><circle cx="546.4" cy="229.40" r="1.3" fill="#9a2fd6"/><circle cx="546.4" cy="232.00" r="1.3" fill="#9a2fd6"/><circle cx="547.8" cy="226.80" r="1.3" fill="#9a2fd6"/><circle cx="547.8" cy="229.40" r="1.3" fill="#9a2fd6"/><circle cx="547.8" cy="232.00" r="1.3" fill="#9a2fd6"/><circle cx="547.8" cy="234.60" r="1.3" fill="#9a2fd6"/><circle cx="550.8" cy="230.70" r="1.3" fill="#6a4ce6"/><circle cx="552.3" cy="229.40" r="1.3" fill="#9a2fd6"/><circle cx="552.3" cy="232.00" r="1.3" fill="#9a2fd6"/><circle cx="554.0" cy="228.10" r="1.3" fill="#6a4ce6"/><circle cx="554.0" cy="230.70" r="1.3" fill="#6a4ce6"/><circle cx="554.0" cy="233.30" r="1.3" fill="#6a4ce6"/><circle cx="555.5" cy="229.40" r="1.3" fill="#2f8af5"/><circle cx="555.5" cy="232.00" r="1.3" fill="#2f8af5"/><circle cx="557.3" cy="230.70" r="1.3" fill="#2f8af5"/><circle cx="558.8" cy="230.70" r="1.3" fill="#2f8af5"/><circle cx="560.5" cy="230.70" r="1.3" fill="#2f8af5"/><circle cx="562.0" cy="230.70" r="1.3" fill="#2f8af5"/><circle cx="563.5" cy="230.70" r="1.3" fill="#2f8af5"/><circle cx="565.0" cy="230.70" r="1.3" fill="#2f8af5"/><circle cx="573.1" cy="230.70" r="1.3" fill="#2f8af5"/><circle cx="578.5" cy="230.70" r="1.3" fill="#ff0d5a"/><circle cx="580.0" cy="230.70" r="1.3" fill="#ff0d5a"/><circle cx="581.5" cy="230.70" r="1.3" fill="#ff0d5a"/><circle cx="583.0" cy="230.70" r="1.3" fill="#ff0d5a"/><circle cx="584.5" cy="230.70" r="1.3" fill="#ff0d5a"/><circle cx="586.0" cy="230.70" r="1.3" fill="#d61ea8"/><circle cx="587.6" cy="230.70" r="1.3" fill="#d61ea8"/><circle cx="588.7" cy="229.40" r="1.3" fill="#d61ea8"/><circle cx="588.7" cy="232.00" r="1.3" fill="#d61ea8"/><circle cx="590.1" cy="224.20" r="1.3" fill="#d61ea8"/><circle cx="590.1" cy="226.80" r="1.3" fill="#d61ea8"/><circle cx="590.1" cy="229.40" r="1.3" fill="#d61ea8"/><circle cx="590.1" cy="232.00" r="1.3" fill="#d61ea8"/><circle cx="590.1" cy="234.60" r="1.3" fill="#d61ea8"/><circle cx="590.1" cy="237.20" r="1.3" fill="#d61ea8"/><circle cx="591.5" cy="229.40" r="1.3" fill="#ff0d5a"/><circle cx="591.5" cy="232.00" r="1.3" fill="#ff0d5a"/><circle cx="521.6" cy="249.90" r="1.3" fill="#ff0d5a"/><circle cx="528.9" cy="249.90" r="1.3" fill="#ff0d5a"/><circle cx="536.9" cy="248.70" r="1.3" fill="#ff0d5a"/><circle cx="536.9" cy="251.10" r="1.3" fill="#ff0d5a"/><circle cx="538.4" cy="249.90" r="1.3" fill="#ff0d5a"/><circle cx="547.8" cy="249.90" r="1.3" fill="#ff0d5a"/><circle cx="566.0" cy="249.90" r="1.3" fill="#ff0d5a"/><circle cx="575.7" cy="249.90" r="1.3" fill="#9a2fd6"/><circle cx="581.6" cy="249.90" r="1.3" fill="#2f8af5"/><circle cx="583.0" cy="248.60" r="1.3" fill="#2f8af5"/><circle cx="583.0" cy="251.20" r="1.3" fill="#2f8af5"/><circle cx="584.5" cy="246.00" r="1.3" fill="#2f8af5"/><circle cx="584.5" cy="248.60" r="1.3" fill="#2f8af5"/><circle cx="584.5" cy="251.20" r="1.3" fill="#2f8af5"/><circle cx="584.5" cy="253.80" r="1.3" fill="#2f8af5"/><circle cx="586.2" cy="248.60" r="1.3" fill="#d61ea8"/><circle cx="586.2" cy="251.20" r="1.3" fill="#d61ea8"/><circle cx="587.7" cy="247.30" r="1.3" fill="#ff0d5a"/><circle cx="587.7" cy="249.90" r="1.3" fill="#ff0d5a"/><circle cx="587.7" cy="252.50" r="1.3" fill="#d61ea8"/><circle cx="589.2" cy="247.30" r="1.3" fill="#9a2fd6"/><circle cx="589.2" cy="249.90" r="1.3" fill="#d61ea8"/><circle cx="589.2" cy="252.50" r="1.3" fill="#2f8af5"/><circle cx="590.6" cy="248.60" r="1.3" fill="#d61ea8"/><circle cx="590.6" cy="251.20" r="1.3" fill="#9a2fd6"/><circle cx="590.6" cy="253.80" r="1.3" fill="#9a2fd6"/><circle cx="592.0" cy="243.40" r="1.3" fill="#2f8af5"/><circle cx="592.0" cy="246.00" r="1.3" fill="#2f8af5"/><circle cx="592.0" cy="248.60" r="1.3" fill="#2f8af5"/><circle cx="592.0" cy="251.20" r="1.3" fill="#2f8af5"/><circle cx="592.0" cy="253.80" r="1.3" fill="#2f8af5"/><circle cx="592.0" cy="256.40" r="1.3" fill="#2f8af5"/><circle cx="593.6" cy="249.90" r="1.3" fill="#9a2fd6"/><circle cx="593.6" cy="247.30" r="1.3" fill="#2f8af5"/><circle cx="593.6" cy="252.50" r="1.3" fill="#2f8af5"/><circle cx="595.8" cy="247.30" r="1.3" fill="#6a4ce6"/><circle cx="595.8" cy="249.90" r="1.3" fill="#6a4ce6"/><circle cx="595.8" cy="252.50" r="1.3" fill="#6a4ce6"/><circle cx="595.8" cy="248.60" r="1.3" fill="#2f8af5"/><circle cx="595.8" cy="251.20" r="1.3" fill="#2f8af5"/><circle cx="537.0" cy="265.40" r="1.3" fill="#2f8af5"/><circle cx="537.0" cy="268.00" r="1.3" fill="#2f8af5"/><circle cx="537.0" cy="270.60" r="1.3" fill="#2f8af5"/><circle cx="542.6" cy="266.70" r="1.3" fill="#2f8af5"/><circle cx="542.6" cy="269.30" r="1.3" fill="#2f8af5"/><circle cx="544.7" cy="264.10" r="1.3" fill="#2f8af5"/><circle cx="544.7" cy="266.70" r="1.3" fill="#2f8af5"/><circle cx="544.7" cy="269.30" r="1.3" fill="#2f8af5"/><circle cx="544.7" cy="271.90" r="1.3" fill="#2f8af5"/><circle cx="557.0" cy="268.60" r="1.3" fill="#2f8af5"/><circle cx="558.4" cy="267.40" r="1.3" fill="#2f8af5"/><circle cx="565.0" cy="266.70" r="1.3" fill="#d61ea8"/><circle cx="565.0" cy="269.30" r="1.3" fill="#d61ea8"/><circle cx="567.0" cy="268.00" r="1.3" fill="#9a2fd6"/><circle cx="569.7" cy="268.00" r="1.3" fill="#2f8af5"/><circle cx="571.0" cy="266.70" r="1.3" fill="#6a4ce6"/><circle cx="571.0" cy="269.30" r="1.3" fill="#6a4ce6"/><circle cx="572.5" cy="265.40" r="1.3" fill="#2f8af5"/><circle cx="572.5" cy="268.00" r="1.3" fill="#2f8af5"/><circle cx="572.5" cy="270.60" r="1.3" fill="#2f8af5"/><circle cx="572.5" cy="262.80" r="1.3" fill="#9a2fd6"/><circle cx="574.0" cy="266.70" r="1.3" fill="#2f8af5"/><circle cx="574.0" cy="269.30" r="1.3" fill="#2f8af5"/><circle cx="575.6" cy="268.00" r="1.3" fill="#6a4ce6"/><circle cx="577.0" cy="266.70" r="1.3" fill="#9a2fd6"/><circle cx="577.0" cy="269.30" r="1.3" fill="#9a2fd6"/><circle cx="578.2" cy="261.50" r="1.3" fill="#2f8af5"/><circle cx="578.2" cy="264.10" r="1.3" fill="#2f8af5"/><circle cx="578.2" cy="271.90" r="1.3" fill="#2f8af5"/><circle cx="578.2" cy="274.50" r="1.3" fill="#2f8af5"/><circle cx="578.2" cy="266.70" r="1.3" fill="#4a80f0"/><circle cx="578.2" cy="269.30" r="1.3" fill="#4a80f0"/><circle cx="600.4" cy="266.70" r="1.3" fill="#ff0d5a"/><circle cx="600.4" cy="269.30" r="1.3" fill="#ff0d5a"/><circle cx="603.4" cy="268.00" r="1.3" fill="#ff0d5a"/><circle cx="605.8" cy="268.00" r="1.3" fill="#ff0d5a"/><circle cx="607.3" cy="266.70" r="1.3" fill="#ff0d5a"/><circle cx="607.3" cy="269.30" r="1.3" fill="#ff0d5a"/><circle cx="608.8" cy="268.00" r="1.3" fill="#d61ea8"/><circle cx="608.8" cy="265.40" r="1.3" fill="#ff0d5a"/><circle cx="608.8" cy="270.60" r="1.3" fill="#ff0d5a"/><circle cx="610.3" cy="266.70" r="1.3" fill="#ff0d5a"/><circle cx="610.3" cy="269.30" r="1.3" fill="#ff0d5a"/><circle cx="611.9" cy="268.00" r="1.3" fill="#ff0d5a"/><circle cx="617.3" cy="268.00" r="1.3" fill="#ff0d5a"/><circle cx="618.5" cy="268.00" r="1.3" fill="#ff0d5a"/><circle cx="623.5" cy="266.70" r="1.3" fill="#ff0d5a"/><circle cx="623.5" cy="269.30" r="1.3" fill="#ff0d5a"/><circle cx="530.0" cy="287.30" r="1.3" fill="#ff0d5a"/><circle cx="531.8" cy="287.80" r="1.3" fill="#ff0d5a"/><circle cx="533.6" cy="287.30" r="1.3" fill="#ff0d5a"/><circle cx="540.5" cy="287.30" r="1.3" fill="#ff0d5a"/><circle cx="542.3" cy="287.30" r="1.3" fill="#ff0d5a"/><circle cx="544.2" cy="287.30" r="1.3" fill="#ff0d5a"/><circle cx="563.7" cy="284.70" r="1.3" fill="#2f8af5"/><circle cx="563.7" cy="287.30" r="1.3" fill="#2f8af5"/><circle cx="563.7" cy="289.90" r="1.3" fill="#2f8af5"/><circle cx="570.9" cy="286.00" r="1.3" fill="#2f8af5"/><circle cx="570.9" cy="288.60" r="1.3" fill="#2f8af5"/><circle cx="572.7" cy="286.00" r="1.3" fill="#6a4ce6"/><circle cx="572.7" cy="288.60" r="1.3" fill="#6a4ce6"/><circle cx="574.5" cy="287.30" r="1.3" fill="#9a2fd6"/><circle cx="576.0" cy="287.30" r="1.3" fill="#d61ea8"/><circle cx="578.1" cy="280.80" r="1.3" fill="#ff0d5a"/><circle cx="578.1" cy="283.40" r="1.3" fill="#ff0d5a"/><circle cx="578.1" cy="286.00" r="1.3" fill="#d61ea8"/><circle cx="578.1" cy="288.60" r="1.3" fill="#d61ea8"/><circle cx="578.1" cy="291.20" r="1.3" fill="#ff0d5a"/><circle cx="578.1" cy="293.80" r="1.3" fill="#ff0d5a"/><circle cx="579.8" cy="287.30" r="1.3" fill="#2f8af5"/><circle cx="588.3" cy="284.70" r="1.3" fill="#2f8af5"/><circle cx="588.3" cy="287.30" r="1.3" fill="#2f8af5"/><circle cx="588.3" cy="289.90" r="1.3" fill="#2f8af5"/><circle cx="589.8" cy="286.00" r="1.3" fill="#2f8af5"/><circle cx="589.8" cy="288.60" r="1.3" fill="#2f8af5"/><circle cx="597.4" cy="283.40" r="1.3" fill="#2f8af5"/><circle cx="597.4" cy="286.00" r="1.3" fill="#2f8af5"/><circle cx="597.4" cy="288.60" r="1.3" fill="#2f8af5"/><circle cx="597.4" cy="291.20" r="1.3" fill="#2f8af5"/><circle cx="599.0" cy="286.00" r="1.3" fill="#2f8af5"/><circle cx="599.0" cy="288.60" r="1.3" fill="#2f8af5"/></g>
</svg></body></html>
